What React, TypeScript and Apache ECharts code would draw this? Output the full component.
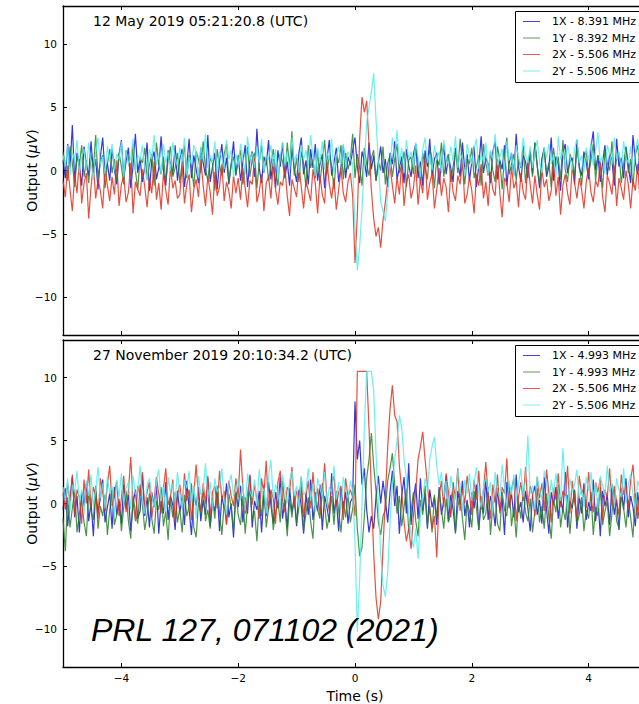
import React, { useEffect, useRef } from "react";
import * as echarts from "echarts";

// Sampling of the traces: first time and step (s)
const T0 = -5;
const DT = 0.04;

// ---- Top panel: 12 May 2019 05:21:20.8 (UTC) ----
const top1X = [
  0.8, -0.6, 2.1, 0.2, 3.6, -0.9, 1.4, 0.3, -1.2, 1.9, 0.5, -0.4, 2.3, -0.2, 0.9, -1.5, 1.1, 2.6, -0.3, 0.6, -0.8, 1.7, 0.1, -1.1, 1.3,
  2.4, -0.5, 0.7, 1.8, -1.4, 0.4, 2.9, -0.2, 1.0, -0.9, 0.3, 2.2, -1.6, 0.8, 1.5, -0.7, 0.2, 2.7, 0.0, -1.2, 1.6, 0.5, -0.3, 2.0, -0.8,
  0.9, 1.7, -1.3, 0.4, 2.5, -0.6, 1.2, 0.1, -1.0, 1.8, 0.6, -0.4, 2.8, -0.9, 0.3, 1.4, -1.5, 0.7, 2.1, -0.2, 1.0, -1.1, 0.5, 2.3, -0.4,
  1.2, -0.8, 0.6, 2.0, -1.3, 0.8, 1.5, -0.5, 3.3, 0.2, -1.0, 1.1, 0.4, 2.4, -0.7, 0.9, -1.4, 1.6, 0.3, 2.2, -0.6, 0.7, -1.2, 1.9, 0.1,
  -0.9, 1.4, 2.6, -0.3, 0.8, -1.1, 1.7, 0.2, 2.1, -0.8, 0.5, 1.3, -1.4, 0.9, 2.4, -0.4, 0.6, 1.8, -0.9, 0.3, 2.0, -0.6, 1.1, 0.4, 1.6,
  2.6, 0.3, -1.0, 1.5, 0.8, -0.5, 2.2, 0.1, 1.2, -0.8, 0.6, 1.9, -0.2, 0.9, -1.3, 1.4, 0.5, 2.3, -0.7, 0.2, 1.1, -1.0, 1.7, 0.4, -0.5,
  1.3, 2.1, -0.6, 0.7, -1.2, 1.6, 0.3, 2.5, -0.4, 0.9, 1.4, -1.1, 0.5, 2.0, -0.3, 1.1, 0.2, -0.9, 1.8, 0.6, -0.5, 2.2, 0.0, 1.3, -0.8,
  0.7, 1.9, -1.3, 0.4, 2.7, -0.2, 1.0, 0.5, -1.0, 1.5, 2.3, -0.7, 0.8, 0.1, 2.0, -1.2, 0.6, 1.4, -0.4, 2.9, 0.3, -0.9, 1.2, 0.7, -0.6,
  1.6, -0.3, 2.2, 0.4, -1.4, 0.9, 1.8, -0.5, 0.3, 2.6, -0.8, 1.1, 0.5, -1.6, 1.4, 2.1, -0.2, 0.7, 1.0, -1.1, 2.4, 0.2, -0.4, 1.5, 0.6,
  -0.7, 1.8, 3.1, 0.0, 1.2, -0.9, 0.6, 2.0, -0.4, 1.3, 0.8, -1.2, 2.5, 0.3, 1.0, -0.6, 1.9, 0.4, -1.0, 2.8, 0.7, -0.3, 1.4, 0.1, 2.2,
  0.5,
];
const top1Y = [
  1.5, 0.2, -0.8, 1.9, 0.6, -1.3, 1.1, 0.4, 2.0, -0.5, 0.8, -1.0, 1.3, 0.1, 2.8, -0.6, 0.7, 1.2, -1.4, 0.5, 1.7, -0.2, 0.9, -0.9, 1.4,
  0.3, -1.1, 1.6, 0.9, -0.4, 2.1, 0.0, -1.5, 1.0, 0.6, 1.8, -0.7, 0.4, 1.3, -1.2, 2.2, 0.5, -0.3, 1.1, -0.9, 0.8, 1.9, -0.5, 0.2, 1.4,
  -1.0, 0.7, 2.0, -0.6, 1.2, 0.3, -1.3, 1.5, 0.9, -0.2, 2.3, 0.1, -0.8, 1.0, 0.6, -1.6, 1.7, 0.4, -0.4, 1.3, 2.1, -0.9, 0.5, 1.1, -0.3,
  0.8, 1.6, -1.1, 0.2, 1.9, -0.5, 0.9, 1.4, -1.4, 0.6, 2.0, -0.2, 1.1, -0.8, 0.4, 1.7, 0.0, -1.2, 1.3, 0.7, -0.6, 2.2, 0.3, 3.1, -0.4,
  1.0, -0.9, 1.5, 0.5, -1.3, 2.0, 0.2, 0.9, -0.6, 1.6, -1.0, 0.7, 2.4, -0.3, 1.2, 0.4, -1.5, 1.1, 0.6, 2.0, -0.7, 1.4, 0.1, 0.8, 2.9,
  -0.6, 1.3, 0.2, -1.2, 1.8, 0.5, -0.4, 1.0, 1.6, -0.8, 0.7, 0.0, 1.9, -1.1, 0.6, 1.2, -0.5, 0.9, 2.1, -0.2, 0.4, 1.5, -1.3, 0.8, 1.1,
  -0.3, 2.0, 0.6, -1.0, 1.4, 0.2, -0.7, 1.7, 0.9, -1.4, 1.1, 0.4, 2.2, -0.5, 0.8, 1.3, -0.9, 0.3, 1.6, -0.2, 2.5, 0.7, -1.1, 1.0, 0.5,
  1.8, -0.6, 0.3, 1.2, -1.2, 2.1, 0.6, -0.4, 1.5, 0.0, -0.9, 1.9, 0.8, -1.5, 1.1, 2.6, -0.3, 0.5, 1.3, -0.8, 0.9, 0.2, 2.0, -1.0, 0.7,
  1.4, -0.5, 2.2, 0.4, -1.1, 0.9, 1.6, -0.2, 0.6, -1.3, 1.8, 0.3, 1.1, -0.7, 2.4, 0.1, -0.9, 1.3, 0.7, -0.4, 1.9, 0.5, -1.2, 1.0, 1.5,
  -0.3, 0.8, 2.1, -0.8, 1.2, 0.4, -1.4, 1.7, 0.6, 0.0, 2.3, -0.6, 1.0, 1.4, -1.0, 0.5, 1.8, -0.2, 0.9, -1.3, 1.2, 2.0, 0.3, -0.7, 1.1,
  0.4,
];
const top2X = [
  -0.8, -2.1, 0.4, -1.5, -3.2, -0.3, -1.8, 0.9, -2.6, -1.0, -0.2, -3.8, -1.3, 0.5, -2.2, -0.7, -1.6, -3.0, 0.2, -1.2, -2.4, -0.5, -1.9, 0.8, -2.8,
  -1.1, -0.4, -2.5, -1.7, 0.6, -3.4, -0.9, -1.5, -2.0, 0.1, -1.3, -2.9, -0.6, -1.8, 0.7, -2.3, -1.0, -3.1, -0.2, -1.6, -2.7, 0.3, -1.4, -0.8, -2.2,
  -1.9, 0.4, -2.6, -1.1, -0.3, -3.3, -1.5, -0.7, -2.1, 0.9, -1.2, -2.8, -0.5, -1.7, -3.5, -0.1, -2.0, -1.3, 0.5, -2.4, -0.9, -1.6, -3.0, -0.4, -1.8,
  -0.6, -2.3, 0.2, -1.4, -2.9, -0.8, -1.1, 1.0, -2.5, -1.7, -0.3, -3.2, -1.0, -0.5, -2.2, 0.6, -1.5, -2.7, -0.9, -1.2, 0.3, -2.0, -3.6, -0.7, -1.4,
  -2.1, 0.5, -1.3, -3.0, -0.8, -1.6, -2.4, 0.1, -1.0, -3.4, -0.4, -1.9, -2.6, 0.7, -1.1, -2.2, -0.6, -3.1, -1.5, 0.2, -1.8, -2.5, -0.9, -0.2, -2.0,
  -7.3, -3.5, 2.5, 5.8, 4.6, 5.5, 2.0, -1.5, -3.8, -5.2, -4.5, -6.1, -3.9, -2.5, -0.8, 0.3, -1.2, -2.6, -0.5, -1.9, 0.6, -2.8, -1.0, -0.3, -2.2,
  -1.4, 0.4, -2.7, -0.7, -1.8, 1.1, -2.3, -1.0, -0.2, -3.0, -1.5, 0.2, -2.0, -0.6, -1.3, -3.3, 0.0, -1.7, -2.4, -0.4, -1.1, 0.8, -2.6, -1.9, -0.5,
  -1.6, -3.4, -0.3, -1.2, 0.5, -2.2, -0.9, -2.8, -0.1, -1.5, -2.0, 0.9, -1.8, -3.7, -0.6, -1.0, -2.5, 0.3, -1.4, -0.8, -2.9, -0.2, -1.7, -2.3, 0.6,
  -1.1, -2.6, -0.4, -1.9, -3.1, 0.1, -1.3, -0.7, -2.4, -1.6, 0.8, -2.0, -0.5, -3.5, -1.2, -0.3, -1.8, -2.7, 0.4, -1.0, -2.2, -0.6, -1.5, -3.0, -0.9,
  0.2, -1.7, -2.5, -0.8, -1.3, 0.7, -2.1, -3.3, -0.4, -1.0, -1.9, 0.4, -2.8, -0.6, -1.4, -2.3, 0.0, -1.1, -3.0, -0.7, -1.6, 0.5, -2.4, -1.2, -0.3,
  -1.5,
];
const top2Y = [
  1.2, 0.3, 2.0, -0.4, 1.5, 0.8, 2.4, -0.2, 1.0, 1.7, 0.1, 2.2, 0.6, -0.7, 1.4, 2.6, 0.4, 1.1, -0.3, 1.9, 0.7, 2.1, 0.0, 1.3, 0.9,
  2.3, -0.5, 1.6, 0.5, 1.0, 2.5, -0.1, 1.2, 0.8, 2.0, 0.2, -0.8, 1.7, 0.9, 2.8, 0.4, 1.3, -0.3, 2.1, 0.6, 1.5, 0.0, 2.2, 1.0, 0.3,
  1.8, 0.7, 2.6, -0.4, 1.1, 0.5, 2.0, 1.4, -0.6, 1.9, 0.8, 2.9, 0.2, 1.2, 0.6, 2.3, -0.2, 1.5, 1.0, 0.1, 2.4, 0.9, 1.6, -0.5, 1.3,
  0.4, 2.1, 1.0, -0.3, 2.7, 0.8, 1.4, 0.2, 1.9, 0.6, 2.5, -0.1, 1.2, 0.9, 2.0, 0.3, 1.7, -0.7, 1.1, 2.2, 0.5, 1.5, 0.0, 2.6, 0.7,
  1.3, -0.2, 2.0, 0.9, 1.6, 0.4, 2.8, 1.1, -0.4, 1.8, 0.6, 2.3, 0.1, 1.4, 0.8, 2.5, -0.3, 1.2, 1.9, 0.5, 2.1, 0.2, 1.5, 1.0, 0.5,
  -4.5, -7.9, -6.0, -3.0, 0.5, 3.8, 5.0, 6.2, 7.7, 4.0, 0.5, -2.5, -3.2, -4.0, -1.8, 0.4, 2.6, 1.0, 3.2, 0.6, 1.8, -0.2, 2.4, 0.9, 1.5,
  0.3, 2.2, 1.1, -0.5, 1.7, 2.6, 0.6, 1.3, 0.0, 2.0, 0.8, 1.5, -0.2, 2.4, 1.0, 0.4, 1.9, 0.7, 2.7, 0.2, 1.4, 0.9, -0.4, 2.1, 1.2,
  0.5, 1.8, 2.5, 0.1, 1.3, 0.7, 2.2, -0.3, 1.6, 0.9, 2.9, 0.4, 1.1, 1.7, 0.0, 2.3, 0.8, 1.4, -0.5, 2.0, 1.0, 0.3, 2.6, 1.2, 0.6,
  1.9, 0.2, 1.4, 2.4, 0.7, -0.2, 1.8, 1.0, 2.1, 0.5, 1.3, -0.6, 2.7, 0.9, 1.5, 0.3, 2.0, 1.1, 0.0, 1.7, 2.5, 0.6, 1.2, -0.1, 1.8,
  0.8, 2.2, 0.4, 1.6, 3.0, 0.7, 1.1, -0.3, 2.0, 1.3, 0.5, 2.6, 0.9, 1.5, 0.1, 2.3, 1.0, 0.6, 1.9, -0.2, 1.4, 2.5, 0.8, 1.2, 2.0,
  1.0,
];

// ---- Bottom panel: 27 November 2019 20:10:34.2 (UTC) ----
const bot1X = [
  -0.5, 1.2, -1.8, 0.3, 2.1, -1.1, 0.6, -2.3, 0.9, -0.2, 1.6, -1.4, 0.1, -2.6, 1.0, -0.7, 0.4, 1.9, -1.5, -0.3, 0.8, -2.0, 1.3, -0.9, 0.2,
  -1.6, 1.5, -0.4, 0.7, -2.2, 0.0, 1.1, -1.2, -0.6, 2.3, -1.0, 0.5, -1.9, 0.9, -0.3, 1.4, -2.4, 0.2, -0.8, 1.7, -1.3, 0.6, -0.1, -2.1, 1.0,
  -0.7, 0.4, -1.7, 1.8, -0.5, -2.5, 0.8, -0.2, 1.3, -1.4, 0.3, -0.9, 2.0, -1.8, 0.1, -0.6, 1.1, -2.2, 0.6, -0.4, 1.6, -1.1, 0.0, -2.7, 0.9,
  -0.3, 1.4, -1.5, 0.5, -0.8, 2.2, -1.9, 0.2, -0.5, 1.0, -2.3, 0.7, -1.0, 1.7, -0.1, -1.6, 0.9, -0.4, 2.1, -1.2, 0.3, -2.0, 1.2, -0.7, 0.4,
  -1.8, 1.1, -0.2, -2.4, 0.8, -0.9, 1.9, -1.3, 0.2, -0.6, 1.5, -2.1, 0.6, -0.3, -1.5, 2.4, -0.8, 0.4, -2.2, 1.2, -0.4, 0.9, -1.6, 0.1, 0.5,
  8.1, 3.5, 5.0, 1.5, 2.8, -0.5, -2.3, -1.0, -2.0, 0.5, 2.2, 0.0, 1.8, 0.3, -1.5, 0.9, 2.6, -0.2, 1.4, -2.4, 0.6, 2.1, -0.8, 3.2, -1.7,
  0.4, 1.6, -1.2, 2.0, -0.6, 0.8, -2.0, 1.1, -0.3, 0.5, -1.7, 1.3, -0.9, 0.2, 2.2, -1.4, 0.7, -0.5, -2.3, 1.0, -0.1, 1.8, -1.0, 0.3, -1.9,
  0.9, -0.4, 1.5, -2.1, 0.2, -0.8, 2.0, -1.3, 0.6, -0.2, -1.8, 1.2, -0.6, 0.4, -2.5, 1.7, -0.3, 0.8, -1.1, 2.3, -0.7, 0.1, -1.5, 1.0, -0.4,
  -2.2, 0.7, 1.4, -0.9, 0.3, -1.6, 2.1, -0.5, -2.4, 0.9, -0.1, 1.3, -1.2, 0.5, -0.7, 2.5, -1.9, 0.2, -0.4, 1.1, -2.0, 0.6, -0.8, 1.6, -1.3,
  0.1, -0.6, 1.9, -1.4, 0.4, -2.6, 1.0, -0.2, 0.7, -1.7, 1.5, -0.9, 0.3, -2.1, 1.2, -0.5, 2.0, -1.1, 0.6, -0.3, -1.8, 0.9, -0.7, 1.4, -1.0,
  0.2,
];
const bot1Y = [
  -1.2, -3.8, 0.5, -1.9, -0.4, 1.1, -2.3, -0.8, 0.3, -1.5, -2.6, 0.9, -0.6, -1.3, 1.4, -2.0, -0.2, -1.0, 0.7, -2.5, -0.5, 1.2, -1.7, -0.9, 0.4,
  -2.2, -0.3, 1.0, -1.4, -2.8, 0.6, -0.7, -1.6, 1.5, -0.1, -2.1, -0.9, 0.8, -1.2, -2.4, 0.2, -0.5, 1.3, -1.8, -0.6, -2.9, 0.4, -1.1, 0.9, -1.5,
  -0.4, -2.3, 0.7, -1.0, -0.2, 1.6, -1.9, -2.7, 0.1, -0.8, 1.1, -1.4, -0.5, -2.0, 0.5, -1.2, 1.4, -0.7, -2.5, 0.0, -1.6, 0.8, -0.3, -2.2, 1.0,
  -0.9, -1.7, 0.6, -2.4, -0.1, 1.2, -1.3, -0.6, -3.0, 0.3, -1.0, 1.5, -1.9, -0.4, 0.9, -2.1, -0.7, 0.2, -1.5, 1.8, -0.2, -2.6, 0.4, -1.1, 0.7,
  -1.6, -0.3, 1.3, -2.2, -0.8, 0.5, -1.4, -2.8, 0.9, -0.5, -1.2, 1.6, -0.1, -2.0, -0.9, 0.6, -1.7, 1.0, -0.6, -2.3, 0.2, -1.1, 0.8, -1.5, -0.4,
  1.5, -2.0, -4.2, -3.5, -1.0, 2.0, 3.5, 5.6, 3.0, 1.0, -1.5, -2.5, -1.0, -0.5, 1.8, 2.8, 4.0, 1.5, -0.8, 0.6, -1.8, -0.3, 1.2, -2.2, -0.6,
  0.9, -1.4, -2.6, 0.3, -0.9, 1.4, -1.8, -0.2, -2.3, 0.7, -1.1, 1.1, -0.5, -2.0, 0.4, -1.5, -0.7, 1.7, -2.4, -0.3, 0.8, -1.2, -2.9, 0.1, -0.6,
  -1.9, 1.0, -0.4, -2.1, 0.6, -1.3, -0.8, 1.3, -2.5, -0.1, 0.5, -1.6, -2.2, 0.9, -0.5, -1.0, 1.6, -1.8, -0.3, -2.7, 0.2, -1.2, 1.1, -0.7, -1.4,
  0.4, -2.3, -0.6, 1.2, -1.5, -0.2, -2.0, 0.8, -1.1, -2.8, 0.3, -0.7, 1.5, -1.9, -0.4, -1.3, 0.7, -2.4, -0.1, 1.0, -1.6, -0.9, 0.5, -2.2, -0.5,
  -1.2, 0.9, -2.5, -0.3, -1.0, 1.3, -1.7, -0.6, 0.2, -2.6, -0.8, 1.1, -1.4, -2.0, 0.6, -0.4, -1.9, 0.3, -1.1, -2.7, 0.8, -0.5, -1.5, 1.4, -0.9,
  -0.3,
];
const bot2X = [
  0.8, -0.5, 1.6, 0.2, 2.3, -0.9, 1.1, 0.5, -1.6, 1.9, 0.0, 2.7, -0.3, 1.3, 0.6, -1.2, 2.0, 0.9, -0.6, 1.5, 3.0, -0.2, 0.7, 1.8, -1.0,
  0.4, 2.2, -0.7, 1.0, 3.7, 0.1, -1.4, 1.4, 0.6, 2.5, -0.4, 0.9, 1.7, -1.1, 0.3, 2.1, 0.8, -0.8, 1.2, 2.8, -0.1, 0.5, 1.9, -1.5, 0.7,
  1.5, -0.3, 2.4, 0.2, 1.1, -1.3, 0.8, 3.1, 0.4, -0.6, 1.6, 0.0, 2.2, -1.0, 0.9, 1.4, -0.4, 2.6, 0.3, 1.0, -1.7, 1.8, 0.6, -0.2, 2.0,
  0.5, 4.3, 1.2, -0.8, 0.7, 2.3, -0.1, 1.5, 0.3, -1.2, 2.0, 0.8, 3.4, -0.5, 1.1, 0.4, -1.6, 1.7, 2.6, 0.2, -0.7, 1.3, 0.9, 2.9, -0.3,
  1.0, 0.3, 2.1, -1.1, 0.6, 1.8, -0.4, 2.5, 0.1, 1.2, -0.9, 0.7, 3.2, 0.4, -0.6, 1.6, 2.2, -0.2, 0.9, 1.4, -1.3, 2.0, 0.5, 1.1, 0.5,
  -1.0, 10.5, 10.5, 10.5, 10.5, 10.5, 6.0, 1.0, -4.0, -7.5, -9.2, -7.8, -3.5, 0.5, 4.5, 7.5, 9.4, 7.0, 6.5, 3.0, 1.0, -1.5, -3.0, -2.0, -3.6,
  -1.0, 1.0, 3.5, 4.5, 5.7, 3.5, 1.5, -0.5, -2.0, -1.0, -4.3, 0.5, 1.8, -0.3, 2.4, 0.9, -1.1, 1.6, 0.4, 2.8, -0.6, 1.2, 0.0, 2.2, 0.7,
  -0.9, 1.9, 0.3, 2.6, -0.5, 1.0, 3.3, 0.6, -1.2, 1.5, 0.1, 2.3, -0.8, 1.3, 0.8, 3.6, -0.4, 1.1, 2.0, -1.4, 0.5, 1.7, 0.2, 2.9, -0.2,
  1.4, 0.7, -1.0, 2.1, 0.4, 1.6, -0.6, 2.7, 0.9, -1.5, 1.2, 0.3, 2.4, -0.3, 1.0, 0.6, 3.0, -0.8, 1.8, 0.2, -1.1, 2.2, 0.8, 1.3, -0.4,
  2.5, 0.4, -0.7, 1.7, 0.9, 2.0, -1.3, 1.1, 0.5, 2.8, -0.2, 1.4, 0.1, -0.9, 2.3, 0.7, 1.5, -0.5, 1.9, 3.1, 0.3, -1.2, 1.2, 0.6, 2.0,
  0.8,
];
const bot2Y = [
  1.3, 0.2, 2.0, -0.6, 1.5, 0.9, 2.6, 0.1, 1.1, -0.9, 1.8, 0.6, 2.3, -0.2, 1.0, 2.9, 0.4, 1.6, -0.4, 2.1, 0.8, 1.4, -1.0, 1.9, 0.5,
  2.4, 0.0, 1.2, 1.7, -0.5, 2.2, 0.7, 1.0, 3.0, 0.3, -0.8, 1.5, 2.0, 0.6, -0.3, 1.8, 2.7, 0.2, 1.3, -0.7, 2.1, 0.9, 1.6, 0.1, 2.5,
  0.8, -0.4, 1.9, 1.2, 2.6, 0.0, 1.4, -1.2, 2.2, 0.7, 1.0, 3.2, 0.4, 1.7, -0.5, 2.0, 0.9, 1.3, 2.8, 0.2, -0.9, 1.5, 2.3, 0.6, 1.1,
  2.0, 0.3, 1.6, -0.6, 2.4, 1.0, 0.5, 1.9, -0.2, 2.7, 0.8, 1.2, -0.8, 2.1, 3.5, 0.4, 1.5, 0.9, -0.4, 2.3, 1.1, 0.0, 1.8, 2.6, 0.6,
  1.4, -0.3, 2.2, 0.7, 1.0, 2.8, 0.2, 1.6, -0.7, 2.0, 1.2, 0.5, 2.5, -0.1, 1.3, 0.9, 3.0, 0.3, 1.7, -0.5, 2.1, 1.1, 0.4, 1.8, 1.0,
  -3.0, -10.2, -6.0, 0.0, 6.0, 10.5, 10.5, 10.5, 9.0, 4.0, 0.0, -4.0, -6.5, -7.4, -5.5, -1.5, 1.5, 3.5, 5.0, 7.0, 6.0, 3.5, 2.0, -1.0, -2.5,
  -3.5, -2.0, -4.4, -1.0, 0.5, 2.0, 1.0, 3.5, 4.5, 5.3, 3.0, 1.5, 2.5, 0.5, 1.8, -0.4, 2.2, 1.0, 0.3, 2.7, 1.4, -0.6, 1.9, 0.8, 2.4,
  0.2, 1.6, 2.9, 0.6, -0.3, 1.3, 2.1, 0.9, 1.7, -0.8, 2.5, 1.0, 0.4, 3.1, 1.2, -0.2, 1.8, 0.7, 2.3, 0.1, 1.5, 2.8, 0.5, 1.9, 5.4,
  0.8, 1.4, -0.5, 2.2, 1.1, 0.3, 2.6, 1.6, -0.1, 1.9, 0.7, 2.4, 1.0, 0.2, 4.4, 1.3, -0.6, 2.0, 0.9, 1.5, 2.7, 0.4, 1.2, -0.3, 2.1,
  1.0, 2.5, 0.3, 1.7, -0.4, 2.2, 1.4, 0.6, 3.0, 0.9, 1.6, -0.2, 2.0, 1.1, 0.5, 2.8, 0.0, 1.5, 2.3, 0.7, -0.5, 1.8, 1.2, 2.6, 0.4,
  1.3,
];

const TOP_TITLE = "12 May 2019 05:21:20.8 (UTC)";
const BOT_TITLE = "27 November 2019 20:10:34.2 (UTC)";
const TOP_NAMES = ["1X - 8.391 MHz", "1Y - 8.392 MHz", "2X - 5.506 MHz", "2Y - 5.506 MHz"];
const BOT_NAMES = ["1X - 4.993 MHz", "1Y - 4.993 MHz", "2X - 5.506 MHz", "2Y - 5.506 MHz"];
const X_TICKS = [-4, -2, 0, 2, 4];
const Y_TICKS = [-10, -5, 0, 5, 10];
const X_RANGE = [-5, 5];
const Y_RANGE = [-13, 13];
const CITATION = "PRL 127, 071102 (2021)";

const COLORS = ["#1515d2", "#2a822a", "#e3301c", "#55ecec"];
const FONT = "DejaVu Sans";

const fmt = (v: number) => String(v).replace("-", "\u2212");

function xAxis(gridIndex: number, position: string, showLabel: boolean, name?: string) {
  return {
    type: "value",
    gridIndex,
    position,
    min: X_RANGE[0],
    max: X_RANGE[1],
    name: name || "",
    nameLocation: "middle",
    nameGap: 22,
    nameTextStyle: { fontFamily: FONT, fontSize: 14, color: "#000" },
    axisLine: { show: true, onZero: false, lineStyle: { color: "#000", width: 1.3 } },
    axisTick: { show: true, inside: true, length: 4, customValues: X_TICKS, lineStyle: { color: "#000", width: 1 } },
    axisLabel: {
      show: showLabel,
      customValues: X_TICKS,
      formatter: fmt,
      margin: 5,
      color: "#000",
      fontSize: 10.5,
      fontFamily: FONT,
    },
    splitLine: { show: false },
  };
}

function yAxis(gridIndex: number, position: string, showLabel: boolean) {
  return {
    type: "value",
    gridIndex,
    position,
    min: Y_RANGE[0],
    max: Y_RANGE[1],
    name: showLabel ? "Output ({i|\u03bcV})" : "",
    nameLocation: "middle",
    nameRotate: 90,
    nameGap: 24,
    nameMoveOverlap: false,
    nameTextStyle: {
      fontFamily: FONT,
      fontSize: 14,
      color: "#000",
      rich: { i: { fontFamily: FONT, fontSize: 14, fontStyle: "italic", color: "#000" } },
    },
    axisLine: { show: true, onZero: false, lineStyle: { color: "#000", width: 1.3 } },
    axisTick: { show: true, inside: true, length: 4, customValues: Y_TICKS, lineStyle: { color: "#000", width: 1 } },
    axisLabel: {
      show: showLabel,
      customValues: Y_TICKS,
      formatter: fmt,
      margin: 6,
      color: "#000",
      fontSize: 10.5,
      fontFamily: FONT,
    },
    splitLine: { show: false },
  };
}

const toPairs = (vals: number[]) => vals.map((v, i) => [T0 + i * DT, v]);

function legendGraphics(names: string[], oy: number) {
  const els: any[] = [
    {
      type: "rect",
      z: 100,
      shape: { x: 515.5, y: 11.5 + oy, width: 200, height: 71 },
      style: { fill: "#fff", stroke: "#000", lineWidth: 1 },
    },
  ];
  names.forEach((n, k) => {
    const y = 21.5 + oy + 16.5 * k;
    els.push({
      type: "line",
      z: 101,
      shape: { x1: 523, y1: y, x2: 540, y2: y },
      style: { stroke: COLORS[k], lineWidth: 1, opacity: 0.8 },
    });
    els.push({
      type: "text",
      z: 101,
      style: { text: n, x: 552, y, verticalAlign: "middle", font: `11px "${FONT}"`, fill: "#000" },
    });
  });
  return els;
}

export default function App() {
  const ref = useRef<HTMLDivElement>(null);
  useEffect(() => {
    if (!ref.current) return;
    const chart = echarts.init(ref.current, null, { renderer: "svg" });
    const topData = [top1X, top1Y, top2X, top2Y];
    const botData = [bot1X, bot1Y, bot2X, bot2Y];
    const series: any[] = [];
    const mk = (name: string, d: number[], k: number, axis: number) => ({
      type: "line",
      name,
      xAxisIndex: axis,
      yAxisIndex: axis,
      data: toPairs(d),
      showSymbol: false,
      symbol: "none",
      clip: true,
      lineStyle: { color: COLORS[k], width: 1.2, opacity: 0.85 },
      itemStyle: { color: COLORS[k] },
      z: 2 + k,
    });
    topData.forEach((d, k) => series.push(mk(TOP_NAMES[k], d, k, 0)));
    botData.forEach((d, k) => series.push(mk(BOT_NAMES[k], d, k, 2)));
    chart.setOption({
      animation: false,
      backgroundColor: "#fff",
      grid: [
        { left: 63, top: 6, width: 584, height: 329 },
        { left: 63, top: 340, width: 584, height: 329 },
      ],
      xAxis: [
        xAxis(0, "bottom", false),
        xAxis(0, "top", false),
        xAxis(1, "bottom", true, "Time (s)"),
        xAxis(1, "top", false),
      ],
      yAxis: [yAxis(0, "left", true), yAxis(0, "right", false), yAxis(1, "left", true), yAxis(1, "right", false)],
      series,
      graphic: [
        {
          type: "text",
          z: 100,
          style: { text: TOP_TITLE, x: 93, y: 21, verticalAlign: "middle", font: `14px "${FONT}"`, fill: "#000" },
        },
        {
          type: "text",
          z: 100,
          style: { text: BOT_TITLE, x: 93, y: 355, verticalAlign: "middle", font: `14px "${FONT}"`, fill: "#000" },
        },
        ...legendGraphics(TOP_NAMES, 0),
        ...legendGraphics(BOT_NAMES, 334),
        {
          type: "text",
          z: 120,
          style: {
            text: CITATION,
            x: 91,
            y: 630,
            verticalAlign: "middle",
            font: `italic 32px "Liberation Sans"`,
            fill: "#000",
          },
        },
      ],
    });
    return () => chart.dispose();
  }, []);
  return (
    <div style={{ position: "fixed", left: 0, top: 0, width: 639, height: 704, overflow: "hidden", background: "#fff" }}>
      <div ref={ref} style={{ width: 660, height: 704 }} />
    </div>
  );
}
